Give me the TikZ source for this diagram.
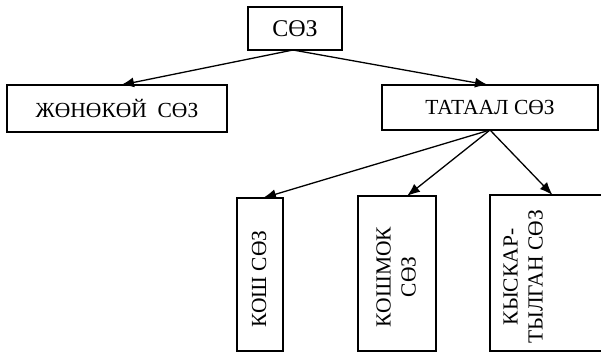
\documentclass[tikz,border=0pt]{standalone}
\usepackage{fontspec}
\setmainfont{Liberation Serif}
\usetikzlibrary{arrows.meta}
\begin{document}
\begin{tikzpicture}[x=1pt,y=-1pt,
  box/.style={draw, line width=1.3pt, inner sep=0pt, outer sep=0pt},
  txt/.style={font=\fontsize{21.5}{25}\selectfont, inner sep=0pt},
  vtext/.style={txt, rotate=90, align=center},
  conn/.style={line width=1.3pt, -{Latex[length=13pt,width=10pt]}}]
\useasboundingbox (0,0) rectangle (601,353);
\fill[white] (0,0) rectangle (601,353);
% top
\node[box, txt, font=\fontsize{24}{28}\selectfont, minimum width=94pt, minimum height=43pt] (top) at (295,28.5) {СӨЗ};
\node[box, txt, minimum width=220pt, minimum height=47pt] (left) at (117,108.5) {ЖӨНӨКӨЙ\ \ СӨЗ};
\node[box, txt, minimum width=216pt, minimum height=45pt] (right) at (490,107.5) {ТАТААЛ СӨЗ};
% bottom boxes
\node[box, minimum width=46pt, minimum height=153pt] (b1) at (260,274.5) {};
\node[vtext] (t1) at (259,279) {КОШ СӨЗ};
\node[box, minimum width=78pt, minimum height=155pt] (b2) at (397,273.5) {};
\node[vtext] (t2) at (396,277) {КОШМОК\\СӨЗ};
\node[box, minimum width=125pt, minimum height=156pt] (b3) at (552.5,273) {};
\node[vtext] (t3) at (523,277) {КЫСКАР-\\ТЫЛГАН СӨЗ};
% connectors
\draw[conn] ([xshift=-2pt]top.south) -- ([xshift=4pt]left.north);
\draw[conn] ([xshift=-2pt]top.south) -- ([xshift=-2pt]right.north);
\draw[conn] (right.south) -- ([xshift=3pt]b1.north);
\draw[conn] (right.south) -- ([xshift=10pt]b2.north);
\draw[conn] (right.south) -- (b3.north);
\end{tikzpicture}
\end{document}
